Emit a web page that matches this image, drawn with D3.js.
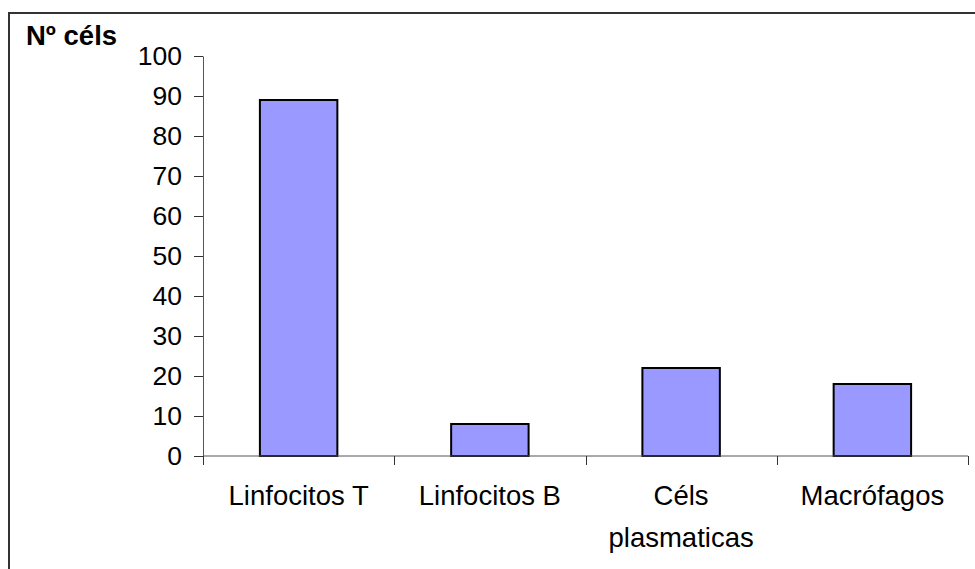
<!DOCTYPE html>
<html>
<head>
<meta charset="utf-8">
<script src="https://cdn.jsdelivr.net/npm/d3@7"></script>
<style>
  html, body { margin: 0; padding: 0; background: #fff; }
  svg { display: block; font-family: "Liberation Sans", Arial, sans-serif; }
</style>
</head>
<body>
<svg id="chart" width="975" height="569"></svg>
<script>
const categories = [["Linfocitos T"], ["Linfocitos B"], ["Céls", "plasmaticas"], ["Macrófagos"]];
const values = [89, 8, 22, 18];
const yTicks = [0, 10, 20, 30, 40, 50, 60, 70, 80, 90, 100];
const yTitle = "Nº céls";

(function() {
const svg = d3.select("#chart");

svg.append("rect")
  .attr("x", 9).attr("y", 13).attr("width", 1000).attr("height", 1000)
  .attr("fill", "none").attr("stroke", "#333").attr("stroke-width", 2);

const mLeft = 203, mRight = 968, mTop = 56, mBottom = 456;
const keys = categories.map((c, i) => i);
const x = d3.scaleBand().domain(keys).range([mLeft, mRight]).padding(0);
const y = d3.scaleLinear().domain([0, 100]).range([mBottom, mTop]);

// bars
const bw = x.bandwidth() * 0.405;
svg.append("g").selectAll("rect").data(values).join("rect")
  .attr("x", (d, i) => x(i) + (x.bandwidth() - bw) / 2)
  .attr("y", d => y(d))
  .attr("width", bw)
  .attr("height", d => y(0) - y(d))
  .attr("fill", "#9999FF")
  .attr("stroke", "#000")
  .attr("stroke-width", 2);

// y axis
const yAxis = svg.append("g").attr("transform", `translate(${mLeft},0)`)
  .call(d3.axisLeft(y).tickValues(yTicks).tickSize(9).tickPadding(12).tickSizeOuter(0));
yAxis.select(".domain").attr("stroke", "#555");
yAxis.selectAll(".tick line").attr("stroke", "#333");
yAxis.selectAll(".tick text").attr("font-size", 26.5).attr("fill", "#000")
  .attr("font-family", "Liberation Sans, Arial, sans-serif");

// x axis line and ticks at band boundaries
const xg = svg.append("g");
xg.append("line").attr("x1", mLeft).attr("x2", mRight).attr("y1", y(0)).attr("y2", y(0))
  .attr("stroke", "#555").attr("stroke-width", 1);
const bounds = keys.map(k => x(k)).concat([x(keys[keys.length - 1]) + x.bandwidth()]);
xg.selectAll("line.t").data(bounds).join("line").attr("class", "t")
  .attr("x1", d => Math.round(d) + 0.5).attr("x2", d => Math.round(d) + 0.5)
  .attr("y1", y(0)).attr("y2", y(0) + 9)
  .attr("stroke", "#333");

// category labels
const lab = svg.append("g").selectAll("text").data(categories).join("text")
  .attr("text-anchor", "middle")
  .attr("font-size", 27.5)
  .attr("fill", "#000");
lab.each(function(lines, i) {
  const t = d3.select(this);
  lines.forEach((ln, j) => {
    t.append("tspan")
      .attr("x", x(i) + x.bandwidth() / 2)
      .attr("y", 505 + j * 42)
      .text(ln);
  });
});

// y title
svg.append("text").attr("x", 26).attr("y", 45)
  .attr("font-size", 27.5).attr("font-weight", "bold").attr("fill", "#000")
  .text(yTitle);
})();
</script>
</body>
</html>
